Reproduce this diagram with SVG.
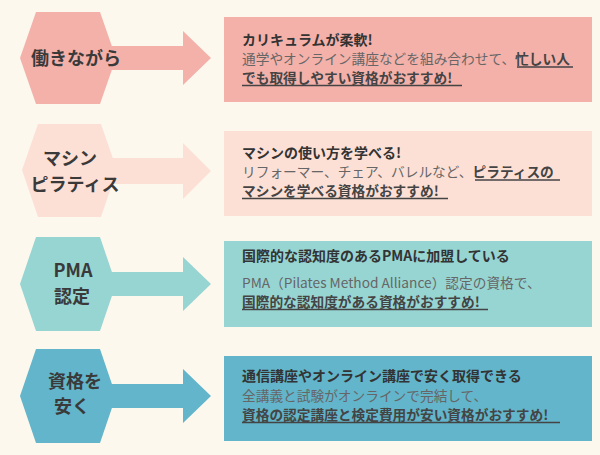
<svg xmlns="http://www.w3.org/2000/svg" width="600" height="455" viewBox="0 0 600 455">
<style>
.hl{font-family:"Noto Sans CJK JP","Noto Sans",sans-serif;font-size:18px;font-weight:700;fill:#3a3a3a;text-anchor:middle}
.t{font-family:"Noto Sans CJK JP","Noto Sans",sans-serif;font-size:14px;font-weight:700;fill:#333}
.b{font-family:"Noto Sans CJK JP","Noto Sans",sans-serif;font-size:13.7px;font-weight:400;fill:#666}
.u{font-weight:700;fill:#444}
.ul{stroke:#444;stroke-width:1.5}
.c1{fill:#f3b1aa}.c2{fill:#fde0d5}.c3{fill:#97d5d3}.c4{fill:#62b5ca}
</style>
<rect width="600" height="455" fill="#fdf8ee"/>
<g id="connectors">
<path class="c1" d="M100,46 H183 V31 L211,58 L183,85 V70 H100 Z"/>
<path class="c2" d="M100,158 H183 V143 L211,171 L183,199 V184 H100 Z"/>
<path class="c3" d="M100,272 H183 V257 L211,284 L183,311 V296 H100 Z"/>
<path class="c4" d="M100,384 H183 V369 L211,396 L183,423 V408 H100 Z"/>
</g>
<g id="node1">
<polygon class="c1" points="20,58 36,12 100,12 116,58 100,104 36,104"/>
<text class="hl" x="76" y="65">働きながら</text>
</g>
<g id="box1">
<rect class="c1" x="224" y="17" width="368" height="85"/>
<text class="t" x="242" y="45">カリキュラムが柔軟!</text>
<text class="b" x="242" y="64">通学やオンライン講座などを組み合わせて、<tspan class="u">忙しい人</tspan></text>
<text class="b u" x="242" y="83">でも取得しやすい資格がおすすめ!</text>
<line class="ul" x1="517" y1="67" x2="573" y2="67"/>
<line class="ul" x1="242" y1="85.5" x2="462" y2="85.5"/>
</g>
<g id="node2">
<polygon class="c2" points="22,170 38,124 101,124 117,170 101,217 38,217"/>
<text class="hl" x="70" y="165">マシン</text>
<text class="hl" x="75" y="191">ピラティス</text>
</g>
<g id="box2">
<rect class="c2" x="224" y="131" width="368" height="85"/>
<text class="t" x="242" y="158">マシンの使い方を学べる!</text>
<text class="b" x="242" y="177">リフォーマー、チェア、バレルなど、<tspan class="u">ピラティスの</tspan></text>
<text class="b u" x="242" y="196">マシンを学べる資格がおすすめ!</text>
<line class="ul" x1="475" y1="180" x2="560" y2="180"/>
<line class="ul" x1="242" y1="198.5" x2="448" y2="198.5"/>
</g>
<g id="node3">
<polygon class="c3" points="20,284 36,237 100,237 116,284 100,331 36,331"/>
<text class="hl" x="73" y="277">PMA</text>
<text class="hl" x="72" y="303">認定</text>
</g>
<g id="box3">
<rect class="c3" x="224" y="241" width="368" height="86"/>
<text class="t" x="242" y="261">国際的な認知度のあるPMAに加盟している</text>
<text class="b" x="242" y="288">PMA（Pilates Method Alliance）認定の資格で、</text>
<text class="b u" x="242" y="307">国際的な認知度がある資格がおすすめ!</text>
<line class="ul" x1="242" y1="309.5" x2="488" y2="309.5"/>
</g>
<g id="node4">
<polygon class="c4" points="20,396 36,349 100,349 116,396 100,443 36,443"/>
<text class="hl" x="75" y="388">資格を</text>
<text class="hl" x="72" y="413">安く</text>
</g>
<g id="box4">
<rect class="c4" x="224" y="356" width="368" height="85"/>
<text class="t" x="242" y="381">通信講座やオンライン講座で安く取得できる</text>
<text class="b" x="242" y="401">全講義と試験がオンラインで完結して、</text>
<text class="b u" x="242" y="420">資格の認定講座と検定費用が安い資格がおすすめ!</text>
<line class="ul" x1="242" y1="422.5" x2="560" y2="422.5"/>
</g>
</svg>
